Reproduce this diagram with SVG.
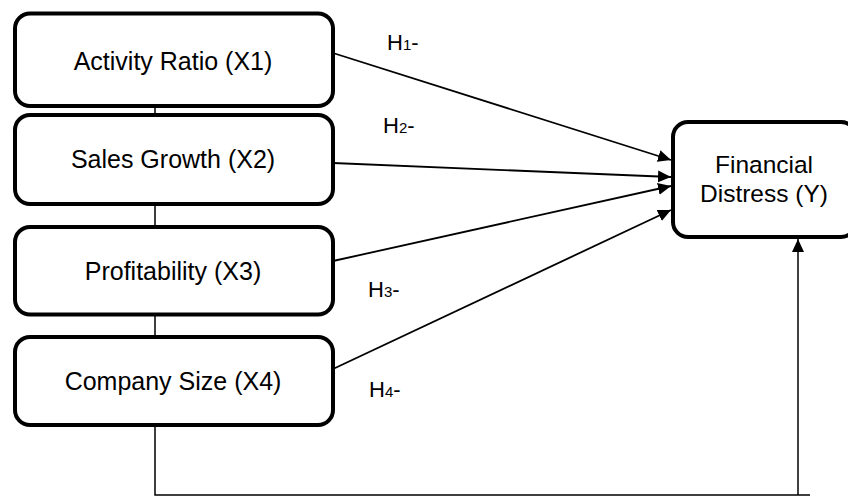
<svg xmlns="http://www.w3.org/2000/svg" width="848" height="498" viewBox="0 0 848 498">
  <style>
    .box { fill: #ffffff; stroke: #000000; stroke-width: 4; }
    .lbl { font-family: "Liberation Sans", Arial, sans-serif; font-size: 25px; fill: #000000; text-anchor: middle; }
    .lbl-y { font-size: 24.5px; }
    .hyp { font-family: "Liberation Sans", Arial, sans-serif; font-size: 22px; fill: #000000; }
    .sub { font-size: 15px; }
    .wire { fill: none; stroke: #000000; stroke-width: 1.5; }
    .arrow { fill: none; stroke: #000000; stroke-width: 1.8; marker-end: url(#head); }
  </style>
  <defs>
    <marker id="head" markerUnits="userSpaceOnUse" markerWidth="14" markerHeight="14" viewBox="0 0 14 14" refX="13" refY="7" orient="auto">
      <path d="M0,1 L13,7 L0,13 Z" fill="#000000"/>
    </marker>
  </defs>

  <rect width="848" height="498" fill="#ffffff"/>

  <!-- connectors -->
  <g id="connectors">
    <!-- spine linking the independent variables and the path back up to Y -->
    <path class="wire" d="M155,106 L155,495 L810,495"/>
    <path class="wire" d="M798,495 L798,239" style="marker-end:url(#head)"/>
    <!-- hypothesis paths -->
    <line class="arrow" x1="333" y1="53" x2="671" y2="160"/>
    <line class="arrow" x1="333" y1="163" x2="671" y2="177"/>
    <line class="arrow" x1="333" y1="261" x2="671" y2="186"/>
    <line class="arrow" x1="333" y1="369" x2="671" y2="210"/>
    <!-- hypothesis labels -->
    <text class="hyp" x="387" y="50">H<tspan class="sub">1</tspan>-</text>
    <text class="hyp" x="383" y="133">H<tspan class="sub">2</tspan>-</text>
    <text class="hyp" x="368" y="297">H<tspan class="sub">3</tspan>-</text>
    <text class="hyp" x="369" y="397">H<tspan class="sub">4</tspan>-</text>
  </g>

  <g id="x1">
    <rect class="box" x="15" y="13.5" width="318" height="92.5" rx="15"/>
    <text class="lbl" x="173" y="70">Activity Ratio (X1)</text>
  </g>
  <g id="x2">
    <rect class="box" x="15" y="115" width="318" height="89" rx="15"/>
    <text class="lbl" x="173" y="168">Sales Growth (X2)</text>
  </g>
  <g id="x3">
    <rect class="box" x="15" y="227" width="318" height="87.5" rx="15"/>
    <text class="lbl" x="173" y="280">Profitability (X3)</text>
  </g>
  <g id="x4">
    <rect class="box" x="15" y="337" width="318" height="88" rx="15"/>
    <text class="lbl" x="173" y="390">Company Size (X4)</text>
  </g>
  <g id="y">
    <rect class="box" x="673" y="122" width="183" height="115" rx="15"/>
    <text class="lbl lbl-y" x="764" y="173">Financial</text>
    <text class="lbl lbl-y" x="764" y="202">Distress (Y)</text>
  </g>
</svg>
